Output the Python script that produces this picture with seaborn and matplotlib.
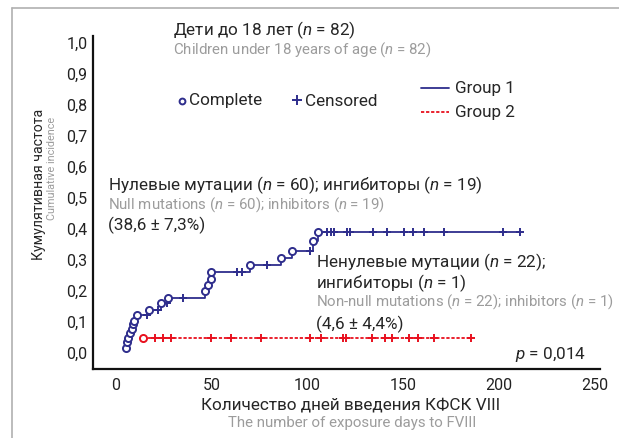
import numpy as np
import pandas as pd
import matplotlib.pyplot as plt
import seaborn as sns
from matplotlib.lines import Line2D

# Group 1: null mutations, events (circles) and censored (+)
g1_event_days = [5.2, 5.9, 6.4, 7.3, 8.5, 9.0, 9.4, 10.8, 17.4, 23.5, 27.3,
                 46.5, 48.2, 49.4, 49.6, 69.9, 86.1, 92.1, 102.7, 105.3]
g1_event_cuminc = [0.014, 0.031, 0.045, 0.061, 0.074, 0.090, 0.101, 0.120, 0.135, 0.158, 0.174,
                   0.197, 0.216, 0.235, 0.259, 0.282, 0.302, 0.325, 0.359, 0.386]
g1_censor_days = [16.0, 22.1, 26.5, 35.1, 63.0, 65.6, 78.7, 101.3, 110.3, 112.1, 113.8,
                  120.4, 122.1, 134.3, 141.6, 150.5, 154.9, 160.8, 171.2, 201.8, 210.9]

# Group 2: non-null mutations
g2_event_days = [14.2]
g2_event_cuminc = [0.045]
g2_censor_days = [20.4, 24.5, 28.7, 49.6, 60.0, 75.9, 101.3, 107.0, 118.5, 120.0, 133.6,
                  140.4, 144.1, 153.0, 157.6, 166.0, 185.3]

x_ticks = [0, 50, 100, 150, 200, 250]
y_ticks = [0.0, 0.1, 0.2, 0.3, 0.4, 0.5, 0.6, 0.7, 0.8, 0.9, 1.0]

NAVY = "#2E2D8C"
RED = "#E8101E"
GREY = "#9C9C9C"

sns.set_style("white")
plt.rcParams['font.family'] = ['Roboto', 'DejaVu Sans']
plt.rcParams['mathtext.fontset'] = 'custom'
plt.rcParams['mathtext.rm'] = 'Roboto'
plt.rcParams['mathtext.it'] = 'Roboto:italic'

W, H = 619, 439
def fx(px):
    return px / W
def fy(py):
    return 1 - py / H


def curve(ev_days, ev_vals, cens_days):
    # step line from first event to last censored time
    xs = list(ev_days) + [max(cens_days)]
    ys = list(ev_vals) + [ev_vals[-1]]
    line = pd.DataFrame({"day": xs, "ci": ys})
    events = pd.DataFrame({"day": ev_days, "ci": ev_vals})
    idx = np.searchsorted(np.array(ev_days), np.array(cens_days), side="right") - 1
    cens = pd.DataFrame({"day": cens_days, "ci": np.array(ev_vals)[idx]})
    return line, events, cens


fig = plt.figure(figsize=(6.19, 4.39), dpi=100)
ax = fig.add_axes([fx(93), fy(370), fx(600) - fx(93), fy(37) - fy(370)])

for ev_d, ev_v, cd, col, ls in [(g1_event_days, g1_event_cuminc, g1_censor_days, NAVY, "-"),
                                 (g2_event_days, g2_event_cuminc, g2_censor_days, RED, (0, (1.8, 1.0)))]:
    line, events, cens = curve(ev_d, ev_v, cd)
    sns.lineplot(data=line, x="day", y="ci", ax=ax, estimator=None, sort=False,
                 drawstyle="steps-post", color=col, linestyle=ls, linewidth=1.3)
    sns.scatterplot(data=cens, x="day", y="ci", ax=ax, marker="+", s=40,
                    color=col, linewidth=1.4, zorder=4)
    sns.scatterplot(data=events, x="day", y="ci", ax=ax, marker="o", s=26,
                    facecolor="white", edgecolor=col, linewidth=1.4, zorder=5)

ax.set_xlim(-12, 252.6)
ax.set_ylim(-0.055, 1.02)
ax.set_xticks(x_ticks)
ax.set_xticklabels([str(t) for t in x_ticks])
ax.set_yticks(y_ticks)
ax.set_yticklabels([f"{t:.1f}".replace(".", ",") for t in y_ticks])
ax.tick_params(length=0, labelsize=11.5, colors="#222222")
ax.tick_params(axis="y", pad=4)
ax.tick_params(axis="x", pad=6)
ax.set_xlabel("")
ax.set_ylabel("")
sns.despine(ax=ax)
for s in ["left", "bottom"]:
    ax.spines[s].set_color("#111111")
    ax.spines[s].set_linewidth(1.6)

# outer grey frame
fig.add_artist(Line2D([fx(12), 1], [fy(9), fy(9)], color="#B0B0B0", lw=1.2, transform=fig.transFigure))
fig.add_artist(Line2D([fx(12), fx(12)], [fy(9), 0], color="#B0B0B0", lw=1.2, transform=fig.transFigure))

BIG = 12.3
SMALL = 10.8
fig.text(fx(173), fy(30), "Дети до 18 лет ($n$ = 82)", size=BIG, va="center")
fig.text(fx(173), fy(50), "Children under 18 years of age ($n$ = 82)", size=SMALL, va="center", color=GREY)

# marker key
fig.add_artist(Line2D([fx(182)], [fy(102)], marker="o", ms=4.2, mfc="white", mec=NAVY, mew=1.4,
                      transform=fig.transFigure))
fig.text(fx(189), fy(101), "Complete", size=BIG, va="center")
fig.add_artist(Line2D([fx(297)], [fy(101)], marker="+", ms=6.5, mec=NAVY, mew=1.4,
                      transform=fig.transFigure))
fig.text(fx(305), fy(101), "Censored", size=BIG, va="center")

# group key
fig.add_artist(Line2D([fx(421), fx(449)], [fy(89), fy(89)], color=NAVY, lw=1.3, transform=fig.transFigure))
fig.text(fx(455), fy(89), "Group 1", size=BIG, va="center")
fig.add_artist(Line2D([fx(421), fx(449)], [fy(113), fy(113)], color=RED, lw=1.3,
                      linestyle=(0, (1.8, 1.0)), transform=fig.transFigure))
fig.text(fx(455), fy(113), "Group 2", size=BIG, va="center")

fig.text(fx(108), fy(185), "Нулевые мутации ($n$ = 60); ингибиторы ($n$ = 19)", size=BIG, va="center")
fig.text(fx(108), fy(205), "Null mutations ($n$ = 60); inhibitors ($n$ = 19)", size=SMALL, va="center", color=GREY)
fig.text(fx(108), fy(225), "(38,6 ± 7,3%)", size=BIG, va="center")

fig.text(fx(316), fy(262), "Ненулевые мутации ($n$ = 22);", size=BIG, va="center")
fig.text(fx(316), fy(283), "ингибиторы ($n$ = 1)", size=BIG, va="center")
fig.text(fx(316), fy(302), "Non-null mutations ($n$ = 22); inhibitors ($n$ = 1)", size=SMALL, va="center", color=GREY)
fig.text(fx(316), fy(324), "(4,6 ± 4,4%)", size=BIG, va="center")

fig.text(fx(586), fy(355), "$p$ = 0,014", size=BIG, va="center", ha="right")

fig.text(fx(39), fy(184), "Кумулятивная частота", size=10.2, va="center", ha="center", rotation=90)
fig.text(fx(52), fy(168), "Cumulative incidence", size=7.8, va="center", ha="center", rotation=90, color=GREY)
fig.text(fx(351), fy(405), "Количество дней введения КФСК VIII", size=BIG, va="center", ha="center")
fig.text(fx(352), fy(423), "The number of exposure days to FVIII", size=SMALL, va="center", ha="center", color=GREY)

fig.savefig("out.png", dpi=100)
